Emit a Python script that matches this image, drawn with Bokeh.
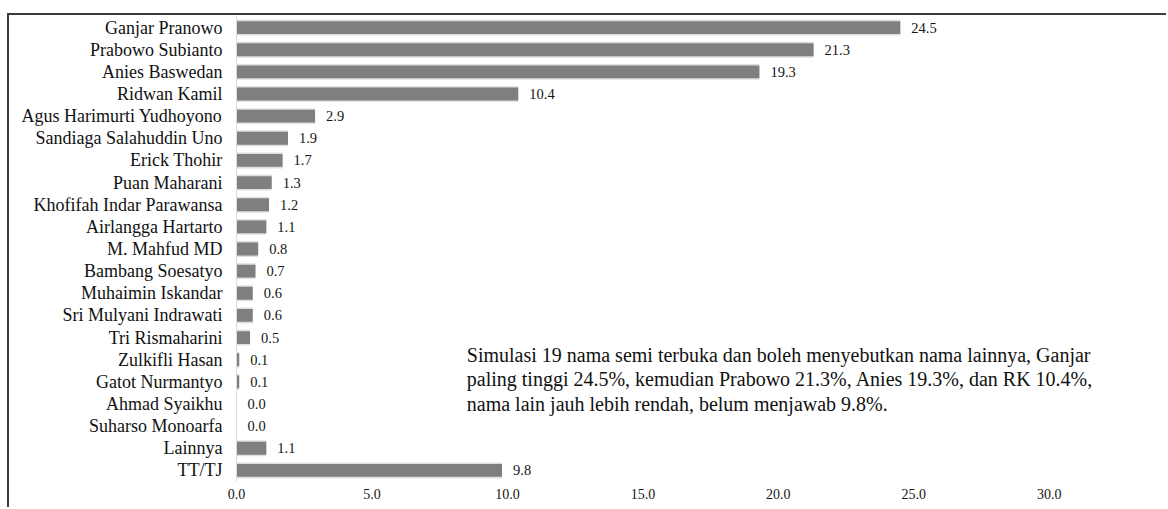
from bokeh.plotting import figure
from bokeh.models import Range1d, FactorRange, FixedTicker, Label, ColumnDataSource
from bokeh.core.properties import value
from bokeh.embed import file_html
from bokeh.resources import INLINE

names = ["Ganjar Pranowo", "Prabowo Subianto", "Anies Baswedan", "Ridwan Kamil",
         "Agus Harimurti Yudhoyono", "Sandiaga Salahuddin Uno", "Erick Thohir",
         "Puan Maharani", "Khofifah Indar Parawansa", "Airlangga Hartarto",
         "M. Mahfud MD", "Bambang Soesatyo", "Muhaimin Iskandar",
         "Sri Mulyani Indrawati", "Tri Rismaharini", "Zulkifli Hasan",
         "Gatot Nurmantyo", "Ahmad Syaikhu", "Suharso Monoarfa", "Lainnya", "TT/TJ"]
values = [24.5, 21.3, 19.3, 10.4, 2.9, 1.9, 1.7, 1.3, 1.2, 1.1, 0.8, 0.7, 0.6,
          0.6, 0.5, 0.1, 0.1, 0.0, 0.0, 1.1, 9.8]
labels = ["%.1f" % v for v in values]
ticks = [0, 5, 10, 15, 20, 25, 30]
note_lines = [
    "Simulasi 19 nama semi terbuka dan boleh menyebutkan nama lainnya, Ganjar",
    "paling tinggi 24.5%, kemudian Prabowo 21.3%, Anies 19.3%, dan RK 10.4%,",
    "nama lain jauh lebih rendah, belum menjawab 9.8%.",
]

SERIF = "'Liberation Serif', 'Times New Roman', Times, serif"

src = ColumnDataSource(dict(name=names, val=values, lab=labels))

p = figure(width=1159, height=494, output_backend="svg", toolbar_location=None,
           y_range=FactorRange(factors=list(reversed(names)), range_padding=0),
           x_range=Range1d(0, 34.4),
           min_border_left=227, min_border_right=0, min_border_top=1,
           min_border_bottom=28)
p.styles = {"margin-top": "13px", "margin-left": "7px",
            "border-top": "2px solid #3c3c3c",
            "border-left": "2px solid #3c3c3c"}
p.outline_line_color = None
p.grid.visible = False
p.background_fill_color = "white"
p.border_fill_color = "white"

# soft shadow to mimic blurred bar edges
p.hbar(y="name", left=0, right="val", height=0.72, source=src,
       fill_color="#b8b8b8", fill_alpha=0.45, line_color=None)
p.hbar(y="name", left=0, right="val", height=0.58, source=src,
       fill_color="#7f7f7f", line_color=None)

p.text(x="val", y="name", text="lab", source=src, x_offset=11,
       text_font=value(SERIF), text_font_size="14.5px", text_baseline="middle",
       text_color="#151515")

for i, line in enumerate(note_lines):
    p.add_layout(Label(x=8.5, y=127 - i * 24.5, y_units="screen", text=line,
                       text_font=SERIF, text_font_size="20px",
                       text_baseline="middle", text_color="#111111"))

p.xaxis.ticker = FixedTicker(ticks=ticks)
p.xaxis.major_label_overrides = {t: "%.1f" % t for t in ticks}
p.xaxis.axis_line_color = None
p.xaxis.major_tick_line_color = None
p.xaxis.minor_tick_line_color = None
p.xaxis.major_label_text_font = SERIF
p.xaxis.major_label_text_font_size = "14px"
p.xaxis.major_label_text_color = "#151515"
p.xaxis.major_label_standoff = 1

p.yaxis.axis_line_color = "#dcdcdc"
p.yaxis.major_tick_line_color = None
p.yaxis.minor_tick_line_color = None
p.yaxis.major_label_text_font = SERIF
p.yaxis.major_label_text_font_size = "18px"
p.yaxis.major_label_text_color = "#111111"
p.yaxis.major_label_standoff = 8

open("out.html", "w").write(file_html(p, INLINE))
